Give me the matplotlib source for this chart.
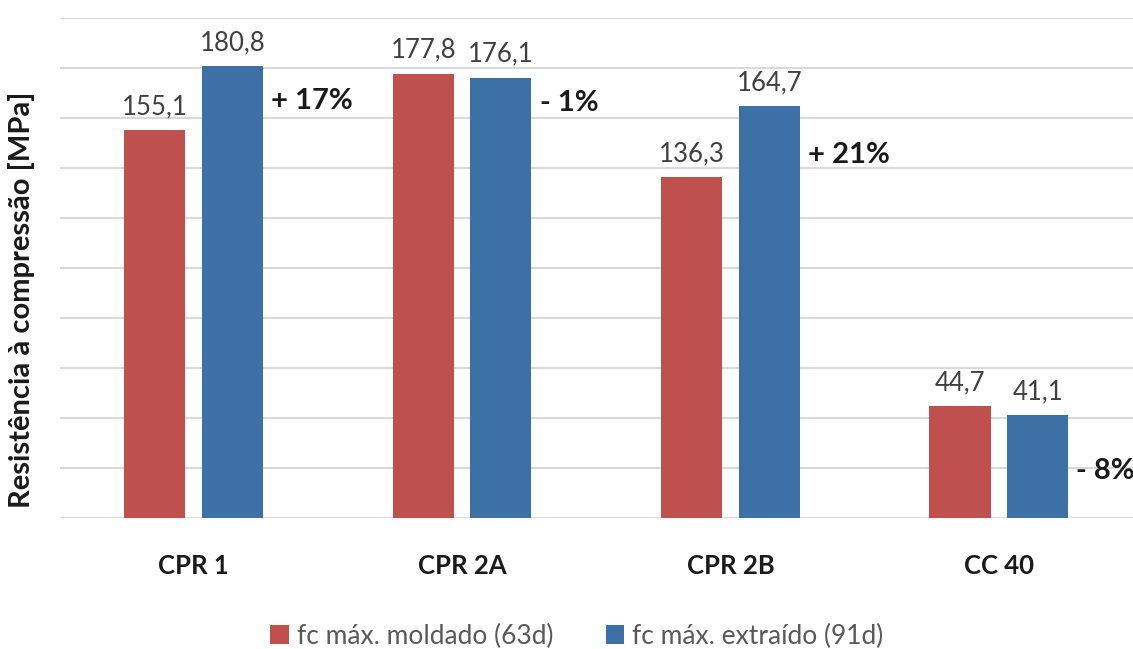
import matplotlib
matplotlib.use("Agg")
import matplotlib.pyplot as plt
import numpy as np

categories = ["CPR 1", "CPR 2A", "CPR 2B", "CC 40"]
moldado = [155.1, 177.8, 136.3, 44.7]
extraido = [180.8, 176.1, 164.7, 41.1]
variation = ["+ 17%", "- 1%", "+ 21%", "- 8%"]
variation_y = [166.8, 166.0, 145.2, 18.8]
series_names = ["fc máx. moldado (63d)", "fc máx. extraído (91d)"]

plt.rcParams['font.family'] = ['Lato', 'DejaVu Sans']

red = "#C0504D"
blue = "#3D71A5"

fig = plt.figure(figsize=(11.33, 6.49), dpi=100)
ax = fig.add_axes([59.5/1133, 1-518/649, 1 - 59.5/1133, 500/649])

x = np.arange(len(categories))
w = 0.2276
off = 0.1446
b1 = ax.bar(x - off, moldado, w, color=red, label=series_names[0], zorder=3)
b2 = ax.bar(x + off, extraido, w, color=blue, label=series_names[1], zorder=3)

for bars, vals in ((b1, moldado), (b2, extraido)):
    for r, v in zip(bars, vals):
        ax.annotate(f"{v:.1f}".replace(".", ","), (r.get_x() + r.get_width()/2, v),
                    xytext=(0, 8), textcoords="offset points", ha="center", va="bottom",
                    fontsize=18.5, color="#404040")

for i, (t, yv) in enumerate(zip(variation, variation_y)):
    ax.annotate(t, (x[i] + off + w/2, yv), xytext=(6, 0), textcoords="offset points",
                ha="left", va="center", fontsize=21, fontweight="bold", color="#1a1a1a")

ax.set_xlim(-0.5, len(categories) - 0.5)
ax.set_ylim(0, 200)
ax.set_yticks(np.arange(0, 201, 20))
ax.set_yticklabels([])
ax.tick_params(axis="y", length=0)
ax.tick_params(axis="x", length=0, pad=26)
ax.set_xticks(x)
ax.set_xticklabels(categories, fontsize=18.5, fontweight="bold", color="#1a1a1a")
ax.grid(axis="y", color="#D9D9D9", linewidth=1.5, zorder=0)
for s in ax.spines.values():
    s.set_visible(False)

fig.text(22/1133, 1-300/649, "Resistência à compressão [MPa]", rotation=90,
         ha="center", va="center", fontsize=21, fontweight="bold", color="#1a1a1a")

leg = fig.legend(handles=[b1, b2], labels=series_names, loc="center",
                 bbox_to_anchor=(577/1133, 1-636/649), ncol=2, frameon=False,
                 fontsize=19, handlelength=0.7, handleheight=0.7, handletextpad=0.3,
                 columnspacing=2.0)
for t in leg.get_texts():
    t.set_color("#595959")

fig.savefig("out.png", dpi=100)
